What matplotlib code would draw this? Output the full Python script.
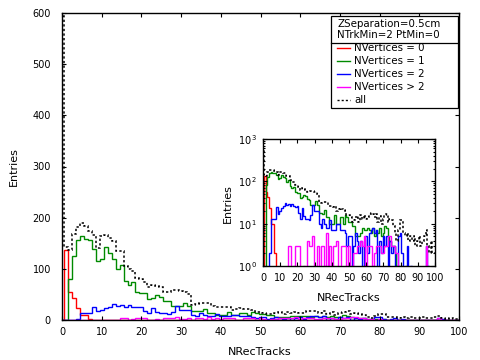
import numpy as np
import matplotlib
matplotlib.use('Agg')
import matplotlib.pyplot as plt
from matplotlib.patches import Rectangle
from matplotlib.lines import Line2D
from matplotlib.ticker import FixedLocator, FuncFormatter, LogLocator, NullFormatter

plt.rcParams['font.family'] = 'DejaVu Sans'

# bin centres of NRecTracks (width 1)
n_rec_tracks = np.arange(0, 101)

# entries per bin
nvtx_0 = [0, 137, 55, 43, 23, 10, 10, 2, 0, 0] + [0] * 91

nvtx_1 = [0, 0, 81, 125, 156, 165, 158, 156, 139, 115,
          120, 142, 130, 120, 99, 107, 77, 68, 74, 55,
          53, 52, 41, 43, 48, 45, 38, 37, 28, 28,
          28, 34, 27, 18, 18, 17, 21, 14, 14, 10,
          10, 10, 16, 10, 10, 14, 14, 10, 16, 14,
          11, 11, 9, 9, 5, 5, 5, 6, 8, 7,
          7, 8, 7, 6, 8, 5, 7, 6, 8, 5,
          6, 9, 8, 5, 4, 3, 3, 2, 0, 1,
          0, 1, 0, 0, 0, 0, 0, 0, 0, 0,
          0, 0, 0, 0, 0, 0, 0, 0, 0, 0, 0]

nvtx_2 = [0, 0, 0, 0, 2, 13, 13, 13, 25, 17,
          20, 23, 26, 31, 27, 29, 26, 29, 26, 25,
          26, 18, 13, 23, 15, 13, 13, 12, 16, 27,
          20, 20, 20, 10, 8, 13, 10, 8, 8, 12,
          7, 7, 7, 10, 10, 7, 7, 7, 6, 3,
          5, 5, 1, 3, 6, 4, 2, 4, 0, 3,
          5, 2, 6, 7, 8, 6, 7, 0, 4, 2,
          5, 3, 5, 0, 4, 2, 3, 0, 1, 5,
          6, 2, 0, 1, 3, 0, 1, 0, 0, 0,
          0, 0, 0, 0, 0, 3, 1, 0, 0, 0, 0]

nvtx_more = [0, 0, 0, 0, 0, 0, 0, 0, 0, 0,
             0, 0, 0, 0, 0, 3, 3, 0, 1, 3,
             3, 3, 0, 0, 1, 0, 4, 3, 3, 5,
             1, 1, 3, 0, 3, 3, 1, 6, 1, 3,
             1, 3, 3, 4, 0, 0, 3, 3, 3, 0,
             3, 1, 0, 2, 2, 3, 3, 4, 3, 5,
             1, 3, 3, 3, 1, 2, 3, 3, 3, 2,
             2, 3, 3, 5, 5, 3, 3, 2, 2, 0,
             1, 0, 0, 0, 0, 0, 0, 0, 0, 0,
             0, 0, 0, 0, 0, 3, 0, 0, 0, 0, 0]

all_events = [595, 143, 137, 168, 181, 189, 183, 174, 167, 140,
              164, 166, 160, 155, 134, 134, 105, 99, 95, 83,
              80, 75, 64, 68, 66, 64, 55, 55, 59, 59,
              57, 55, 50, 30, 31, 33, 33, 33, 28, 26,
              26, 25, 26, 20, 22, 23, 22, 21, 20, 16,
              16, 14, 11, 12, 14, 15, 11, 16, 13, 16,
              13, 14, 17, 18, 17, 14, 17, 11, 15, 10,
              13, 16, 17, 11, 13, 12, 9, 6, 4, 7,
              12, 12, 6, 5, 6, 4, 5, 4, 5, 3,
              4, 5, 3, 4, 5, 7, 3, 2, 4, 2, 2]

series = [(nvtx_0, '#ff0000', 'NVertices = 0'),
          (nvtx_1, '#008a00', 'NVertices = 1'),
          (nvtx_2, '#0000ff', 'NVertices = 2'),
          (nvtx_more, '#ff00ff', 'NVertices > 2')]
header = ['ZSeparation=0.5cm', 'NTrkMin=2 PtMin=0']

edges = np.append(n_rec_tracks - 0.5, n_rec_tracks[-1] + 0.5)
dots = (0, (1.5, 1.5))

W, H = 480, 360


def fx(px):
    return px / W


def fy(py):
    return 1 - py / H


fig = plt.figure(figsize=(4.8, 3.6), dpi=100)

# main pad
ax = fig.add_axes([fx(62), fy(320), fx(459) - fx(62), fy(13) - fy(320)])
for vals, col, _ in series:
    ax.stairs(vals, edges, color=col, lw=1.0)
ax.stairs(all_events, edges, color='black', lw=1.1, linestyle=dots)
ax.set_xlim(0, 100)
ax.set_ylim(0, 600)
ax.xaxis.set_major_locator(FixedLocator(range(0, 101, 10)))
ax.yaxis.set_major_locator(FixedLocator(range(0, 601, 100)))
ax.tick_params(direction='in', top=True, right=True, length=3, width=0.8,
               labelsize=7)
ax.tick_params(axis='x', pad=5)
ax.tick_params(axis='y', pad=8)
for sp in ax.spines.values():
    sp.set_linewidth(1.0)

fig.text(fx(260), fy(352), 'NRecTracks', ha='center', va='center', fontsize=8)
fig.text(fx(14), fy(167), 'Entries', ha='center', va='center', fontsize=8,
         rotation=90)

# inset, log scale
ax2 = fig.add_axes([fx(263), fy(266), fx(435) - fx(263), fy(139) - fy(266)])
ax2.set_facecolor('white')
for vals, col, _ in series:
    ax2.stairs(vals, edges, color=col, lw=1.0)
ax2.stairs(all_events, edges, color='black', lw=1.1, linestyle=dots)
ax2.set_yscale('log')
ax2.set_xlim(0, 100)
ax2.set_ylim(1, 1000)
ax2.xaxis.set_major_locator(FixedLocator(range(0, 101, 10)))
ax2.yaxis.set_major_locator(FixedLocator([1, 10, 100, 1000]))
ax2.yaxis.set_major_formatter(
    FuncFormatter(lambda v, p: r'$10^{\,%d}$' % int(round(np.log10(v)))))
ax2.yaxis.set_minor_locator(LogLocator(base=10, subs=np.arange(2, 10)))
ax2.yaxis.set_minor_formatter(NullFormatter())
ax2.tick_params(which='both', direction='in', top=True, right=True, width=0.8,
                labelsize=7)
ax2.tick_params(which='major', length=3)
ax2.tick_params(which='minor', length=1.5)
ax2.tick_params(axis='x', pad=5)
ax2.tick_params(axis='y', pad=4)
for sp in ax2.spines.values():
    sp.set_linewidth(1.0)

fig.text(fx(349), fy(298), 'NRecTracks', ha='center', va='center', fontsize=8)
fig.text(fx(228), fy(204), 'Entries', ha='center', va='center', fontsize=8,
         rotation=90)

# legend box
fig.add_artist(Rectangle((fx(331), fy(108)), fx(458) - fx(331), fy(16) - fy(108),
                         transform=fig.transFigure, facecolor='white',
                         edgecolor='black', lw=0.9, zorder=5))
fig.add_artist(Line2D([fx(331), fx(458)], [fy(42.5), fy(42.5)],
                      transform=fig.transFigure, color='black', lw=0.9, zorder=6))
for i, txt in enumerate(header):
    fig.text(fx(337), fy(24 + 11 * i), txt, ha='left', va='center',
             fontsize=7.4, zorder=7)
labels = [s[2] for s in series] + ['all']
colors = [s[1] for s in series] + ['black']
styles = ['-'] * len(series) + [dots]
for i, (lab, col, ls) in enumerate(zip(labels, colors, styles)):
    yy = 48 + 12.9 * i
    fig.add_artist(Line2D([fx(337), fx(350)], [fy(yy), fy(yy)],
                          transform=fig.transFigure, color=col, lw=1.0,
                          linestyle=ls, zorder=7))
    fig.text(fx(354), fy(yy), lab, ha='left', va='center', fontsize=7.4, zorder=7)

fig.savefig('out.png', dpi=100)
